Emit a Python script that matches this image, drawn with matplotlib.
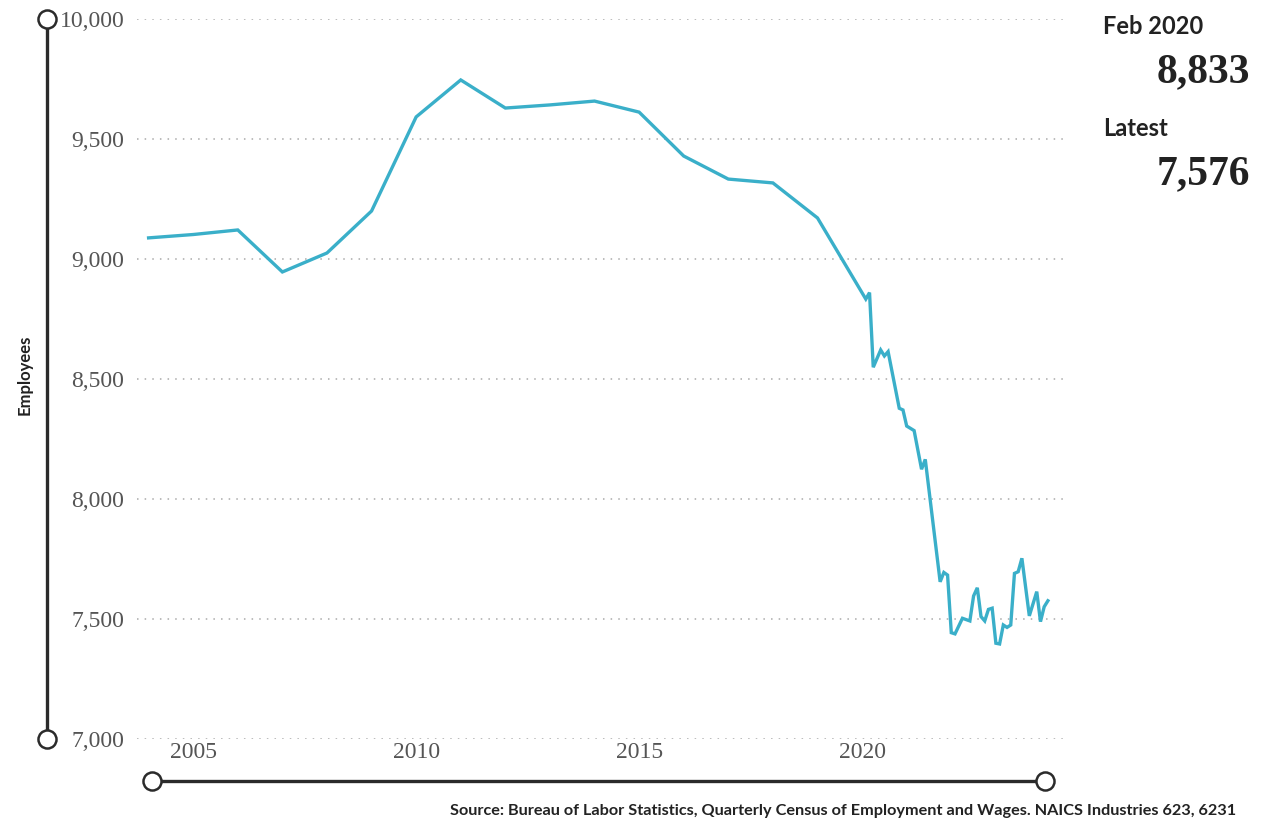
import matplotlib
matplotlib.use("Agg")
import matplotlib.pyplot as plt
from matplotlib.lines import Line2D
import numpy as np

# annual values (2004-2019)
years = [2004, 2005, 2006, 2007, 2008, 2009, 2010, 2011, 2012, 2013,
         2014, 2015, 2016, 2017, 2018, 2019]
annual = [9088, 9102, 9121, 8946, 9025, 9200, 9592, 9746, 9629, 9642,
          9658, 9612, 9429, 9333, 9317, 9171]

# monthly values from 2020 on (turning points)
months = ["2020-02", "2020-03", "2020-04", "2020-06", "2020-07", "2020-08",
          "2020-11", "2020-12", "2021-01", "2021-03", "2021-05", "2021-06",
          "2021-10", "2021-11", "2021-12", "2022-01", "2022-02", "2022-04",
          "2022-06", "2022-07", "2022-08", "2022-09", "2022-10", "2022-11",
          "2022-12", "2023-01", "2023-02", "2023-03", "2023-04", "2023-05",
          "2023-06", "2023-07", "2023-08", "2023-10", "2023-12", "2024-01",
          "2024-02", "2024-03"]
monthly = [8833, 8860, 8549, 8621, 8596, 8614,
           8378, 8371, 8304, 8285, 8124, 8165,
           7655, 7694, 7683, 7443, 7438, 7503,
           7492, 7596, 7630, 7510, 7492, 7540,
           7545, 7399, 7396, 7475, 7465, 7475,
           7690, 7697, 7753, 7513, 7614, 7489,
           7551, 7576]

y_ticks = [7000, 7500, 8000, 8500, 9000, 9500, 10000]
x_ticks = [2005, 2010, 2015, 2020]

feb_label, feb_value = "Feb 2020", 8833
latest_label, latest_value = "Latest", 7576

LINE_COLOR = "#3aafc9"
TICK_COLOR = "#555555"
DARK = "#2b2b2b"
SERIF = ["Liberation Serif", "DejaVu Serif"]
SANS = ["Lato", "DejaVu Sans"]


def month_to_year(s):
    y, m = s.split("-")
    return int(y) + (int(m) - 1) / 12


t = np.array(years + [month_to_year(m) for m in months])
v = np.array(annual + monthly)

W, H = 1274, 822
fig = plt.figure(figsize=(W / 100, H / 100), dpi=100)
ax = fig.add_axes([137 / W, 1 - 739 / H, (1065 - 137) / W, 720 / H])

ax.plot(t, v, color=LINE_COLOR, lw=2.4, solid_joinstyle="miter")

ax.set_ylim(7000, 10000)
ax.set_xlim(2003.74, 2024.55)
ax.set_yticks(y_ticks)
ax.set_yticklabels([f"{y:,}" for y in y_ticks])
ax.set_xticks(x_ticks)
ax.set_xticklabels([str(x) for x in x_ticks])
ax.tick_params(length=0, labelsize=17, labelcolor=TICK_COLOR)
ax.tick_params(axis="y", pad=9)
ax.tick_params(axis="x", pad=2)
for lbl in ax.get_xticklabels() + ax.get_yticklabels():
    lbl.set_family(SERIF)
ax.grid(axis="y", color="#aaaaaa", lw=1.1, linestyle=(0, (1, 4)))
ax.grid(axis="x", visible=False)
for s in ax.spines.values():
    s.set_visible(False)


# decorative axis bars with open circles on both ends
def px(x, y):
    return x / W, 1 - y / H


for (x0, y0), (x1, y1) in [((47, 19), (47, 739)), ((152, 781), (1045, 781))]:
    a, b = px(x0, y0)
    c, d = px(x1, y1)
    fig.add_artist(Line2D([a, c], [b, d], transform=fig.transFigure,
                          color=DARK, lw=2.4, marker="o", markersize=13,
                          markerfacecolor="white", markeredgecolor=DARK,
                          markeredgewidth=1.8))

fig.text(*px(25, 375), "Employees", rotation=90, ha="center", va="center",
         fontsize=12, fontweight="bold", family=SANS, color="#222222")

fig.text(*px(1103, 27), feb_label, ha="left", va="center", fontsize=17,
         fontweight="bold", family=SANS, color="#222222")
fig.text(*px(1250, 72), f"{feb_value:,}", ha="right", va="center",
         fontsize=30, fontweight="bold", family=SERIF, color="#222222")
fig.text(*px(1103, 129), latest_label, ha="left", va="center", fontsize=17,
         fontweight="bold", family=SANS, color="#222222")
fig.text(*px(1250, 174), f"{latest_value:,}", ha="right", va="center",
         fontsize=30, fontweight="bold", family=SERIF, color="#222222")

fig.text(*px(1236, 811), "Source: Bureau of Labor Statistics, Quarterly Census of "
         "Employment and Wages. NAICS Industries 623, 6231", ha="right",
         va="center", fontsize=11.7, fontweight="bold", family=SANS,
         color="#222222")

fig.savefig("out.png", dpi=100, facecolor="white")
